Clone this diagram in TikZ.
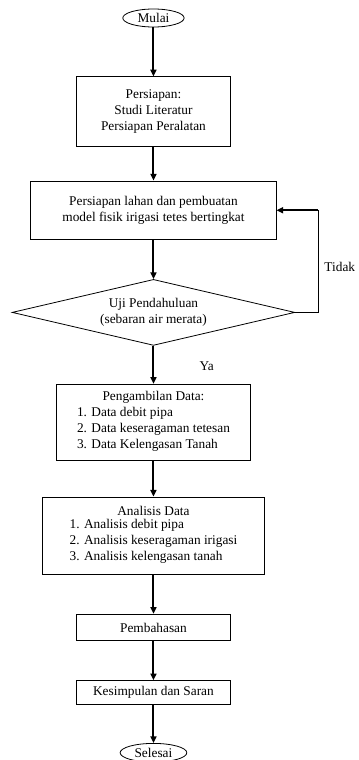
\documentclass[tikz,border=0pt]{standalone}
\usepackage{fontspec}
\setmainfont{Liberation Serif}
\usetikzlibrary{positioning,shapes.geometric,arrows.meta,calc}

\begin{document}
\begin{tikzpicture}[
      font=\fontsize{10}{12}\selectfont,
      proc/.style={draw, line width=0.6pt, align=center, inner sep=2pt},
      term/.style={draw, ellipse, line width=0.6pt, inner sep=0pt,
                   minimum width=46pt, minimum height=13.5pt},
      cond/.style={draw, diamond, aspect=4.3, line width=0.6pt, inner sep=0pt,
                   align=center, minimum width=212pt, minimum height=49.5pt},
      arr/.style={-{Triangle[length=5pt,width=4.5pt]}, line width=1.5pt},
      back/.style={line width=0.8pt},
      lbl/.style={inner sep=0pt},
    ]
    \useasboundingbox (0,0) rectangle (268.5pt,-570pt);

    % ---------- start and preparation ----------
    \node[term] (mulai) at (115.1pt,-13.5pt) {Mulai};
    \node[proc, minimum width=115.5pt, minimum height=52pt, below=36.75pt of mulai] (persiapan)
      {Persiapan:\\Studi Literatur\\Persiapan Peralatan};
    \node[proc, minimum width=184pt, minimum height=44pt, below=25.5pt of persiapan] (lahan)
      {Persiapan lahan dan pembuatan\\model fisik irigasi tetes bertingkat};
    \node[cond, below=29.25pt of lahan] (uji)
      {Uji Pendahuluan\\(sebaran air merata)};

    \draw[arr] (mulai) -- (persiapan);
    \draw[arr] (persiapan) -- (lahan);
    \draw[arr] (lahan) -- (uji);

    % ---------- loop back ----------
    \coordinate (loopb) at ($(uji.east)+(17.25pt,0)$);
    \coordinate (loopt) at (loopb |- lahan.east);
    \draw[back] (uji.east) -- (loopb) -- (loopt);
    \draw[arr] (loopt) -- (lahan.east);
    \node[lbl, anchor=west] (tidak) at ($(loopt)!0.55!(loopb)+(4.5pt,0)$) {Tidak};

    % ---------- data and analysis ----------
    \node[proc, minimum width=145pt, minimum height=57pt, below=28.5pt of uji] (ambil)
      {Pengambilan Data:\\
       \begin{tabular}{@{}l@{}}1. Data debit pipa\\2. Data keseragaman tetesan\\3. Data Kelengasan Tanah\end{tabular}};
    \node[lbl] (ya) at ($(uji.south)+(40pt,-15pt)$) {Ya};
    \node[proc, minimum width=166.5pt, minimum height=58pt, below=27pt of ambil] (analisis)
      {Analisis Data\\
       \begin{tabular}{@{}l@{}}1. Analisis debit pipa\\2. Analisis keseragaman irigasi\\3. Analisis kelengasan tanah\end{tabular}};

    \draw[arr] (uji) -- (ambil);
    \draw[arr] (ambil) -- (analisis);

    % ---------- end ----------
    \node[proc, minimum width=116pt, minimum height=20pt, below=29.25pt of analisis] (bahas) {Pembahasan};
    \node[proc, minimum width=116pt, minimum height=18pt, below=29.25pt of bahas] (simpul) {Kesimpulan dan Saran};
    \node[term, minimum width=50pt, minimum height=14pt, below=28.5pt of simpul] (selesai) {Selesai};

    \draw[arr] (analisis) -- (bahas);
    \draw[arr] (bahas) -- (simpul);
    \draw[arr] (simpul) -- (selesai);
  \end{tikzpicture}
\end{document}
